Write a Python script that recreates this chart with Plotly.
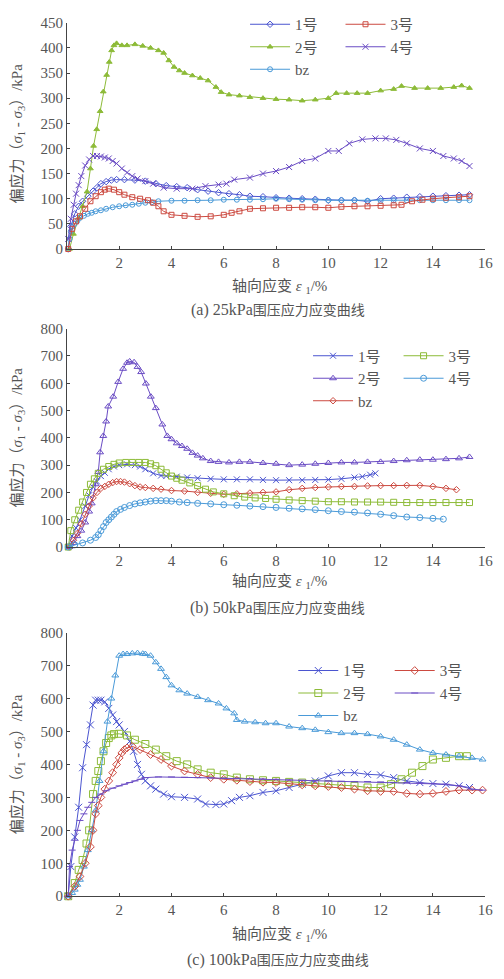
import plotly.graph_objects as go

# ---------------- (a) 25 kPa ----------------
a1_x = [0.05,0.15,0.3,0.45,0.6,0.8,1.0,1.15,1.3,1.5,1.7,1.9,2.2,2.6,3.0,3.4,3.8,4.2,4.6,5.0,5.4,5.8,6.2,6.6,7.0,7.5,8.0,8.5,9.0,9.5,10.0,10.5,11.0,11.5,12.0,12.5,13.0,13.5,14.0,14.5,15.0,15.4]
a1_y = [0,45,70,85,95,105,115,122,130,134,137,138,138,137,135,130,126,124,122,118,115,112,110,108,105,104,102,101,100,99,97,97,97,95,100,101,103,104,105,106,107,108]
a2_x = [0.1,0.25,0.45,0.6,0.77,0.9,1.02,1.14,1.27,1.39,1.52,1.62,1.71,1.8,1.9,2.1,2.3,2.6,2.9,3.2,3.5,3.7,3.9,4.1,4.3,4.5,4.8,5.1,5.4,5.7,5.9,6.2,6.6,7.0,7.5,8.0,8.5,9.0,9.5,10.0,10.3,10.7,11.1,11.5,12.0,12.5,12.8,13.3,13.8,14.3,14.8,15.1,15.4]
a2_y = [0,30,62,85,114,160,205,238,274,313,346,372,395,405,409,405,405,407,404,400,395,390,375,362,355,350,345,340,335,322,312,307,305,302,300,298,297,295,297,300,310,310,310,310,315,318,324,320,320,320,322,325,320]
a3_x = [0.05,0.2,0.35,0.5,0.7,0.9,1.1,1.3,1.45,1.6,1.8,2.0,2.2,2.5,2.8,3.1,3.3,3.5,3.7,4.0,4.5,5.0,5.5,6.0,6.3,6.6,7.0,7.5,8.0,8.5,9.0,9.5,10.0,10.5,11.0,11.5,12.0,12.5,12.8,13.2,13.6,14.0,14.5,15.0,15.4]
a3_y = [0,40,55,65,80,95,105,113,118,120,118,113,108,103,100,97,92,85,75,68,66,64,65,68,72,75,80,81,82,82,83,83,82,84,85,85,86,87,88,95,98,100,102,103,105]
a4_x = [0.05,0.15,0.26,0.35,0.45,0.55,0.7,0.85,1.0,1.15,1.3,1.45,1.6,1.75,1.9,2.1,2.3,2.5,2.7,3.0,3.3,3.7,4.2,4.8,5.3,5.8,6.1,6.4,7.0,7.5,8.0,8.5,9.0,9.5,10.0,10.4,10.8,11.3,11.8,12.2,12.6,13.0,13.5,14.0,14.4,14.8,15.1,15.4]
a4_y = [20,60,88,110,127,145,166,178,185,185,184,182,180,175,170,160,152,145,140,135,130,122,120,120,125,128,130,138,142,150,155,163,175,180,195,195,210,218,220,220,217,210,200,195,185,180,175,165]
abz_x = [0.05,0.1,0.15,0.22,0.3,0.4,0.5,0.65,0.8,0.95,1.1,1.3,1.5,1.75,2.0,2.25,2.5,2.75,3.0,3.25,3.5,4.0,4.5,5.0,5.5,6.0,6.5,7.0,7.5,8.0,8.5,9.0,9.5,10.0,10.5,11.0,11.5,12.0,12.5,13.0,13.5,14.0,14.5,15.0,15.4]
abz_y = [0,20,35,45,50,56,62,66,70,72,75,77,80,83,85,87,88,90,92,93,95,96,96,97,97,98,98,98,99,100,99,98,97,97,97,97,96,96,97,97,97,97,97,97,97]

# ---------------- (b) 50 kPa ----------------
b1_x = [0.05,0.2,0.35,0.5,0.7,0.85,1.0,1.15,1.3,1.45,1.6,1.8,2.0,2.3,2.6,2.8,3.0,3.3,3.6,3.8,4.2,4.6,5.0,5.5,6.0,6.5,7.0,7.5,8.0,8.5,9.0,9.5,10.0,10.5,11.0,11.3,11.6,11.8]
b1_y = [0,40,70,100,150,190,220,240,260,272,285,295,300,303,300,295,285,270,262,260,258,255,252,250,248,248,248,246,245,245,245,246,247,250,255,258,265,270]
b2_x = [0.1,0.25,0.4,0.55,0.7,0.85,0.95,1.1,1.2,1.27,1.39,1.5,1.58,1.77,1.96,2.15,2.3,2.4,2.57,2.7,2.84,3.02,3.21,3.4,3.65,3.84,4.0,4.2,4.4,4.6,4.8,5.0,5.2,5.5,5.8,6.2,6.6,7.0,7.5,8.0,8.5,9.0,9.5,10.0,10.5,11.0,11.5,12.0,12.5,13.0,13.5,14.0,14.5,15.0,15.4]
b2_y = [0,15,40,60,90,130,160,230,275,347,407,460,515,551,605,653,675,680,677,660,641,599,551,509,449,407,395,380,370,360,345,335,325,315,312,310,312,312,308,305,300,302,305,308,310,310,312,312,315,318,320,320,322,325,330]
b3_x = [0.05,0.15,0.3,0.45,0.6,0.75,0.9,1.05,1.2,1.4,1.6,1.8,2.0,2.25,2.5,2.75,3.0,3.2,3.4,3.6,3.8,4.0,4.2,4.4,4.7,5.0,5.3,5.6,6.0,6.4,6.8,7.2,7.6,8.0,8.5,9.0,9.5,10.0,10.5,11.0,11.5,12.0,12.5,13.0,13.5,14.0,14.5,15.0,15.4]
b3_y = [0,60,100,135,165,200,230,250,270,285,295,303,308,310,310,310,310,305,298,285,272,260,252,245,235,225,212,202,195,188,183,180,178,175,172,170,168,166,166,165,165,165,164,163,163,163,163,163,163]
b4_x = [0.05,0.3,0.6,0.9,1.1,1.2,1.3,1.4,1.5,1.6,1.7,1.8,1.9,2.05,2.2,2.4,2.6,2.8,3.0,3.2,3.4,3.6,3.8,4.0,4.3,4.6,5.0,5.5,6.0,6.5,7.0,7.5,8.0,8.5,9.0,9.5,10.0,10.5,11.0,11.5,12.0,12.5,13.0,13.5,14.0,14.4]
b4_y = [0,8,15,25,35,45,60,75,90,100,110,120,130,138,145,152,158,162,165,168,170,170,170,168,165,163,160,158,155,153,150,148,145,142,140,137,133,130,128,125,120,115,110,108,105,102]
bbz_x = [0.1,0.25,0.4,0.55,0.7,0.85,1.0,1.15,1.3,1.45,1.6,1.75,1.9,2.05,2.2,2.4,2.6,2.8,3.0,3.3,3.6,4.0,4.5,5.0,5.5,6.0,6.5,7.0,7.5,8.0,8.5,9.0,9.5,10.0,10.5,11.0,11.5,12.0,12.5,13.0,13.5,14.0,14.5,14.9]
bbz_y = [0,25,50,85,120,150,180,200,215,222,230,236,240,240,238,232,225,220,218,215,212,207,205,200,197,193,195,198,200,202,210,215,218,220,222,222,224,225,225,226,226,222,215,210]

# ---------------- (c) 100 kPa ----------------
c1_x = [0.05,0.15,0.3,0.45,0.6,0.75,0.9,1.0,1.1,1.2,1.3,1.45,1.6,1.75,1.9,2.0,2.2,2.4,2.55,2.7,2.85,3.0,3.2,3.4,3.7,4.0,4.5,5.0,5.3,5.7,6.0,6.3,6.6,7.0,7.5,8.0,8.5,9.0,9.5,10.0,10.5,11.0,11.5,12.0,12.5,13.0,13.5,14.0,14.5,15.0,15.4]
c1_y = [0,90,180,270,390,460,520,580,595,595,595,590,570,550,530,520,500,470,440,400,370,350,335,325,310,302,300,295,280,278,280,290,300,305,315,320,330,340,350,365,375,375,370,368,360,350,345,342,340,335,330]
c2_x = [0.05,0.3,0.45,0.6,0.75,0.85,1.0,1.1,1.2,1.3,1.4,1.5,1.6,1.7,1.8,2.0,2.3,2.6,3.0,3.4,3.8,4.2,4.6,5.0,5.5,6.0,6.5,7.0,7.5,8.0,8.5,9.0,9.5,10.0,10.5,11.0,11.5,12.0,12.4,12.8,13.2,13.6,14.0,14.5,15.0,15.3]
c2_y = [0,40,80,110,160,200,310,350,380,410,440,465,480,488,492,493,488,475,462,445,425,410,400,385,375,370,360,355,352,350,347,345,342,340,337,335,330,330,340,355,375,395,415,420,425,425]
c3_x = [0.05,0.3,0.5,0.7,0.9,1.0,1.1,1.2,1.3,1.45,1.6,1.75,1.9,2.0,2.1,2.2,2.3,2.5,2.8,3.2,3.6,4.0,4.5,5.0,5.5,6.0,6.5,7.0,7.5,8.0,8.5,9.0,9.5,10.0,10.5,11.0,11.5,12.0,12.5,13.0,13.5,14.0,14.5,15.0,15.5,15.9]
c3_y = [0,30,60,100,150,200,250,275,300,325,350,375,400,420,435,445,450,455,445,430,415,395,380,370,360,355,352,348,346,345,342,338,335,333,330,325,320,318,318,312,310,312,318,322,322,322]
c4_x = [0.05,0.1,0.2,0.3,0.4,0.5,0.65,0.8,0.95,1.1,1.3,1.5,1.75,2.0,2.2,2.4,2.6,2.8,3.0,3.5,4.0,4.5,5.0,5.5,6.0,6.5,7.0,7.5,8.0,8.5,9.0,9.5,10.0,10.5,11.0,11.5,12.0,12.5,13.0,13.5,14.0,14.5,15.0,15.5,15.9]
c4_y = [0,90,140,170,200,230,250,270,285,300,310,320,328,335,340,345,350,355,360,362,362,361,360,359,358,358,357,356,355,353,352,351,350,349,348,348,347,345,345,344,342,340,335,325,322]
cbz_x = [0.05,0.2,0.3,0.4,0.5,0.65,0.8,0.95,1.1,1.25,1.4,1.55,1.7,1.85,2.0,2.15,2.3,2.5,2.7,2.9,3.0,3.2,3.4,3.6,3.8,4.0,4.3,4.6,5.0,5.4,5.8,6.1,6.4,6.5,6.8,7.2,7.6,8.0,8.5,9.0,9.5,10.0,10.5,11.0,11.5,12.0,12.5,13.0,13.5,14.0,14.5,15.0,15.5,15.9]
cbz_y = [0,10,20,35,50,90,140,200,260,350,440,530,600,670,730,735,735,737,738,736,735,730,710,690,665,640,625,615,605,595,585,570,555,535,530,528,525,525,515,510,505,498,495,495,492,485,475,460,445,435,430,425,420,415]

x_ticks = [2, 4, 6, 8, 10, 12, 14, 16]
cap_prefix = ["(a) 25kPa", "(b) 50kPa", "(c) 100kPa"]
cap_text = "围压应力应变曲线"

SERIF = "Liberation Serif, Times New Roman, serif"
NUM = "Liberation Serif, Times New Roman, Noto Sans CJK SC, serif"
BLUE_P = "#4b55d0"; PURPLE = "#6a4cc4"; GREEN = "#8dbb38"; RED = "#cc4a40"; LBLUE = "#4a9ad8"

fig = go.Figure()

def add(x, y, name, color, symbol, ax, legend, size=5):
    xa = "x" if ax == 1 else f"x{ax}"
    ya = "y" if ax == 1 else f"y{ax}"
    fig.add_trace(go.Scatter(
        x=x, y=y, name=name, mode="lines+markers", xaxis=xa, yaxis=ya,
        legend=legend, cliponaxis=False,
        line=dict(color=color, width=1),
        marker=dict(symbol=symbol, size=size, color=color,
                    line=dict(color=color, width=1)),
    ))

# (a)
add(a1_x, a1_y, "1号", BLUE_P, "diamond-open", 1, "legend")
add(a2_x, a2_y, "2号", GREEN, "triangle-up", 1, "legend")
add(abz_x, abz_y, "bz", LBLUE, "circle-open", 1, "legend")
add(a3_x, a3_y, "3号", RED, "square-open", 1, "legend2")
add(a4_x, a4_y, "4号", PURPLE, "x-thin-open", 1, "legend2", 6)
# (b)
add(b1_x, b1_y, "1号", BLUE_P, "x-thin-open", 2, "legend3", 6)
add(b2_x, b2_y, "2号", PURPLE, "triangle-up-open", 2, "legend3", 6)
add(bbz_x, bbz_y, "bz", RED, "diamond-open", 2, "legend3")
add(b3_x, b3_y, "3号", GREEN, "square-open", 2, "legend4", 6)
add(b4_x, b4_y, "4号", LBLUE, "circle-open", 2, "legend4", 6)
# (c)
add(c1_x, c1_y, "1号", BLUE_P, "x-thin-open", 3, "legend5", 7)
add(c2_x, c2_y, "2号", GREEN, "square-open", 3, "legend5", 7)
add(cbz_x, cbz_y, "bz", LBLUE, "triangle-up-open", 3, "legend5", 6)
add(c3_x, c3_y, "3号", RED, "diamond-open", 3, "legend6", 6)
add(c4_x, c4_y, "4号", PURPLE, "line-ew-open", 3, "legend6", 5)

xdom = [68/504, 493/504]
ydoms = [[1-245/979, 1-15/979], [1-548/979, 1-326/979], [1-903/979, 1-635/979]]
yranges = [[0, 450], [0, 800], [0, 800]]
ydticks = [50, 100, 100]

axis_common = dict(showline=True, linecolor="#444", linewidth=1, ticks="inside",
                   ticklen=3, tickcolor="#444", showgrid=False, zeroline=False,
                   tickfont=dict(family=SERIF, size=15, color="#555"))
layout = dict(width=504, height=979, margin=dict(l=0, r=0, t=0, b=0),
              paper_bgcolor="white", plot_bgcolor="white", showlegend=True)
for i in range(3):
    s = "" if i == 0 else str(i+1)
    layout[f"xaxis{s}"] = dict(domain=xdom, range=[0, 16], tickvals=x_ticks,
                               anchor=f"y{s}", **axis_common)
    layout[f"yaxis{s}"] = dict(domain=ydoms[i], range=yranges[i], dtick=ydticks[i],
                               anchor=f"x{s}", **axis_common)

leg_common = dict(bgcolor="rgba(0,0,0,0)", font=dict(family=NUM, size=15, color="#555"),
                  xanchor="left", yanchor="top", orientation="v", itemwidth=40,
                  tracegroupgap=0)
leg_pos = [(249, 0), (346, 0), (313, 337), (405, 337), (298, 657), (396, 657)]
names = ["legend", "legend2", "legend3", "legend4", "legend5", "legend6"]
for n, (px, py) in zip(names, leg_pos):
    layout[n] = dict(x=px/504, y=1-py/979, **leg_common)

fig.update_layout(**layout)

ytitle = "偏应力（<i>σ</i><sub>1</sub> - <i>σ</i><sub>3</sub>）/kPa"
xtitle = "轴向应变 <i>ε</i> <sub>1</sub>/%"
ycent = [128, 437, 769]
xt_y = [283, 583, 942]
cap_y = [307, 610, 968]
for i in range(3):
    fig.add_annotation(text=ytitle, xref="paper", yref="paper", x=18/504, y=1-ycent[i]/979,
                       xanchor="center", yanchor="middle",
                       textangle=-90, showarrow=False,
                       font=dict(family=NUM, size=15, color="#555"))
    fig.add_annotation(text=xtitle, xref="paper", yref="paper", x=284/504, y=1-xt_y[i]/979,
                       xanchor="center", yanchor="middle",
                       showarrow=False, font=dict(family=NUM, size=15, color="#555"))
    cap = cap_prefix[i] + '<span style="font-size:14px">' + cap_text + "</span>"
    fig.add_annotation(text=cap, xref="paper", yref="paper", x=282/504, y=1-cap_y[i]/979,
                       xanchor="center", yanchor="middle",
                       showarrow=False, font=dict(family=NUM, size=16, color="#555"))

fig.write_html("out.html")
